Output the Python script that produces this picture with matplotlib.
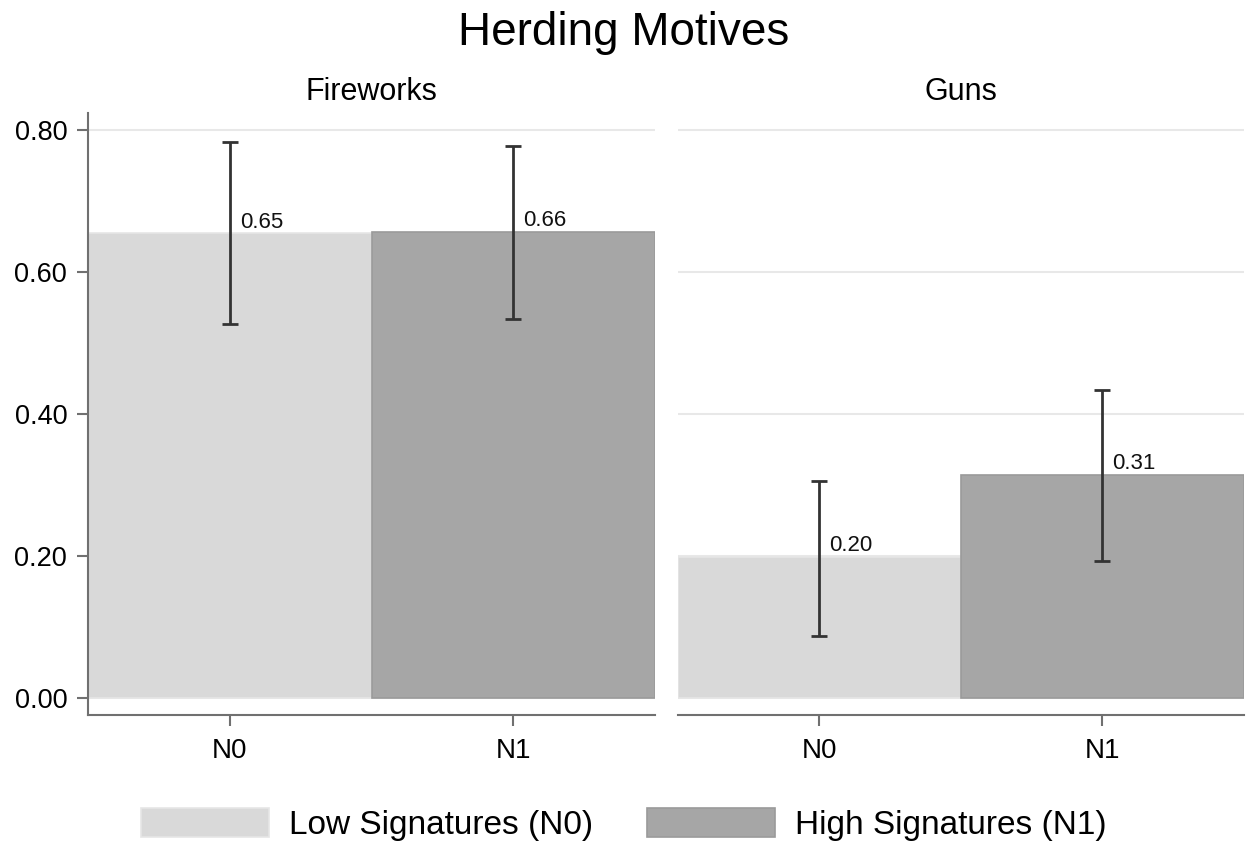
import numpy as np
import matplotlib.pyplot as plt

plt.rcParams['font.family'] = ['Liberation Sans', 'DejaVu Sans']

# data
panels = ['Fireworks', 'Guns']
groups = ['N0', 'N1']
legend_labels = ['Low Signatures (N0)', 'High Signatures (N1)']
means = [[0.654, 0.656], [0.199, 0.314]]
ci_low = [[0.527, 0.534], [0.087, 0.193]]
ci_high = [[0.783, 0.777], [0.306, 0.433]]
value_labels = [['0.65', '0.66'], ['0.20', '0.31']]
yticks = [0.0, 0.2, 0.4, 0.6, 0.8]

colors = ['#d9d9d9', '#a6a6a6']
edges = ['#e6e6e6', '#9a9a9a']
axis_col = '#707070'

fig = plt.figure(figsize=(12.48, 8.48), dpi=100)
ax1 = fig.add_axes([0.0705, 0.157, 0.4545, 0.710])
ax2 = fig.add_axes([0.543, 0.157, 0.4535, 0.710])

x = np.arange(len(groups))
for i, ax in enumerate([ax1, ax2]):
    for j in range(len(groups)):
        ax.bar(x[j], means[i][j], width=1.0, color=colors[j], edgecolor=edges[j],
               linewidth=1.2, zorder=2, label=legend_labels[j])
        err = [[means[i][j] - ci_low[i][j]], [ci_high[i][j] - means[i][j]]]
        ax.errorbar(x[j], means[i][j], yerr=err, fmt='none', ecolor='#333333',
                    elinewidth=2, capsize=5.5, capthick=2, zorder=3)
        ax.text(x[j] + 0.035, means[i][j] + 0.001, value_labels[i][j],
                ha='left', va='bottom', fontsize=16, color='#111111', zorder=4)

    ax.set_xlim(-0.5, 1.5)
    ax.set_ylim(-0.024, 0.824)
    ax.set_xticks(x)
    ax.set_xticklabels(groups, fontsize=20)
    ax.set_yticks(yticks)
    ax.set_yticklabels(['%.2f' % t for t in yticks], fontsize=19.5)
    ax.grid(axis='y', color='#e8e8e8', linewidth=1.5, zorder=0)
    ax.set_axisbelow(True)
    ax.set_title(panels[i], fontsize=22, pad=9)
    for s in ['top', 'right']:
        ax.spines[s].set_visible(False)
    for s in ['left', 'bottom']:
        ax.spines[s].set_color(axis_col)
        ax.spines[s].set_linewidth(1.5)
    ax.tick_params(axis='both', length=8, width=1.5, color=axis_col, pad=7)
    ax.tick_params(axis='x', pad=9)

ax2.spines['left'].set_visible(False)
ax2.tick_params(axis='y', left=False, labelleft=False)

fig.suptitle('Herding Motives', fontsize=33, y=0.987)

handles, labels = ax1.get_legend_handles_labels()
fig.legend(handles, labels, loc='lower center', bbox_to_anchor=(0.5, -0.027), ncol=2,
           frameon=False, fontsize=24, handlelength=3.85, handleheight=1.0,
           columnspacing=1.6, handletextpad=0.6)

fig.savefig('out.png', dpi=100)
